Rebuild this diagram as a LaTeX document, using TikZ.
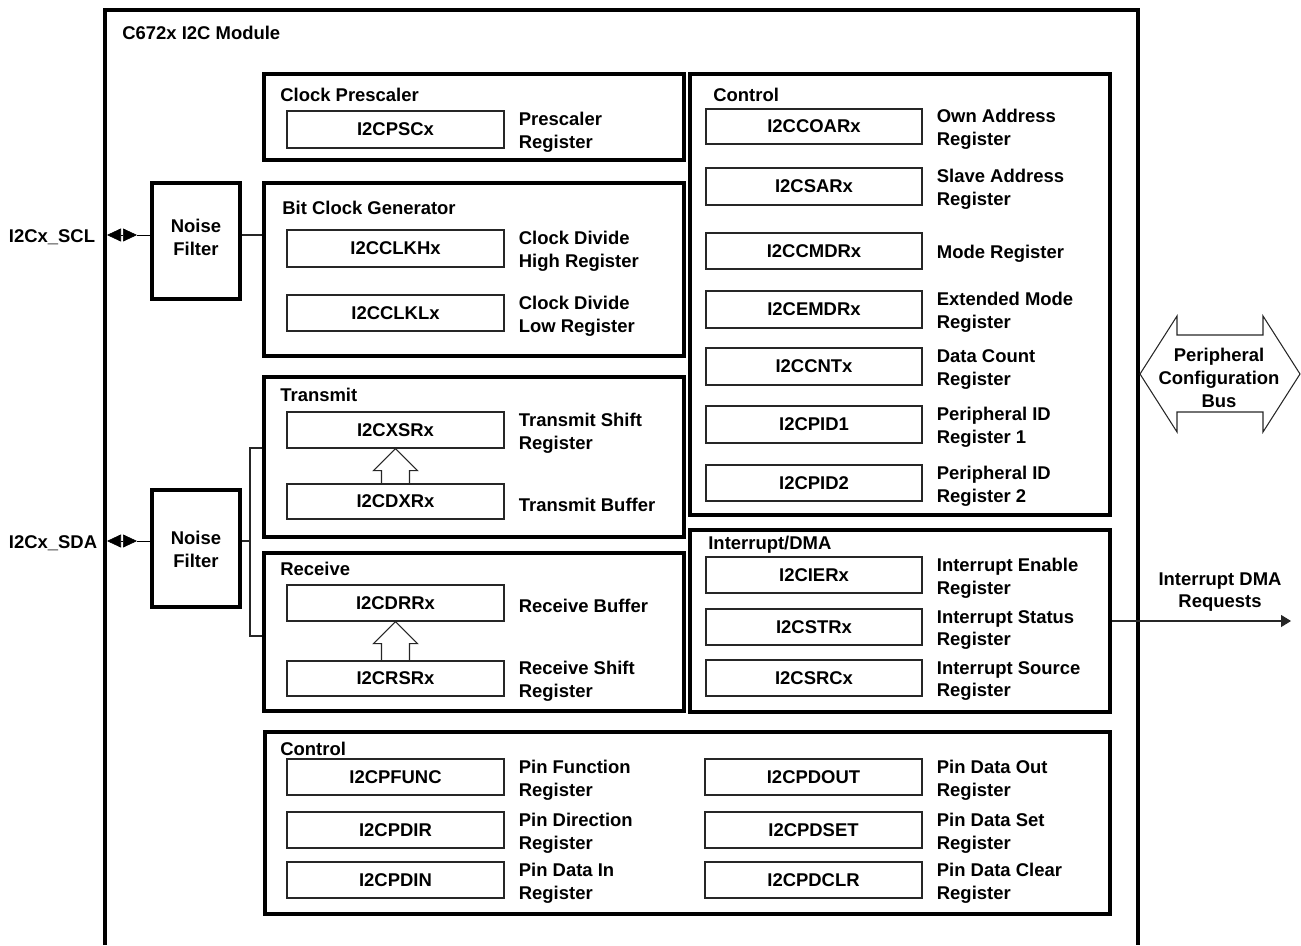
\documentclass[tikz,border=0pt]{standalone}
\usepackage{fontspec}
\setmainfont{Liberation Sans}
\usetikzlibrary{arrows.meta,positioning,fit,calc}

\tikzset{
  grpbox/.style={draw, line width=1.9pt, inner sep=0pt},
  regbox/.style={draw=black!85, line width=0.6pt, inner sep=0pt, label={center:#1}},
  grptitle/.style={anchor=west, inner sep=0pt},
  regdesc/.style={align=left, inner sep=0pt, yshift=-0.6mm},
  wire/.style={line width=0.6pt, black!85},
  pintip/.style={{Triangle[length=2.8mm,width=2.6mm]}-{Triangle[length=2.8mm,width=2.6mm]}},
}

\begin{document}
\begin{tikzpicture}[x=0.2mm, y=-0.2mm, every node/.style={font=\bfseries\fontsize{10.5}{13}\selectfont}]
            \useasboundingbox (0,0) rectangle (1301,945);

            % module frame
            \draw[line width=1.9pt] (105,945) -- (105,10) -- (1138,10) -- (1138,945);
            \node[grptitle] (modtitle) at (122,33) {C672x I2C Module};

            % noise filters and pins
            \node[grpbox, fit={(152,183) (240,299)}] (sclf) {};
            \node[grpbox, fit={(152,490) (240,607)}] (sdaf) {};
            \node[align=center] (sclft) at (196,237) {Noise\\Filter};
            \node[align=center] (sdaft) at (196,549) {Noise\\Filter};
            \node (scl) at (52,237) {I2Cx\_SCL};
            \node (sda) at (53,543) {I2Cx\_SDA};
            \coordinate (sclpin) at (107,235);
            \coordinate (scltip) at (137,235);
            \coordinate (sdapin) at (107,541);
            \coordinate (sdatip) at (137,541);
            \coordinate (sdabus) at (250,541);

            % clock prescaler
            \node[grpbox, fit={(264,74) (684,160)}] (presc) {};
            \node[grptitle] (presct) at (280,95) {Clock Prescaler};
            \node[regbox=I2CPSCx, fit={(287,111) (504,148)}] (pscx) {};
            \node[regdesc, right=2.8mm of pscx] (pscxd) {Prescaler\\Register};

            % bit clock generator
            \node[grpbox, fit={(264,183) (684,356)}] (bitclk) {};
            \node[grptitle] (bitclkt) at (282,208) {Bit Clock Generator};
            \node[regbox=I2CCLKHx, fit={(287,230) (504,267)}] (clkh) {};
            \node[regdesc, right=2.8mm of clkh] (clkhd) {Clock Divide\\High Register};
            \node[regbox=I2CCLKLx, fit={(287,295) (504,331)}] (clkl) {};
            \node[regdesc, right=2.8mm of clkl] (clkld) {Clock Divide\\Low Register};

            % transmit
            \node[grpbox, fit={(264,377) (684,537)}] (tx) {};
            \node[grptitle] (txt) at (280,395) {Transmit};
            \node[regbox=I2CXSRx, fit={(287,412) (504,448)}] (xsr) {};
            \node[regdesc, right=2.8mm of xsr] (xsrd) {Transmit Shift\\Register};
            \node[regbox=I2CDXRx, fit={(287,484) (504,519)}] (dxr) {};
            \node[regdesc, right=2.8mm of dxr] (dxrd) {Transmit Buffer};

            % receive
            \node[grpbox, fit={(264,553) (684,711)}] (rx) {};
            \node[grptitle] (rxt) at (280,569) {Receive};
            \node[regbox=I2CDRRx, fit={(287,585) (504,621)}] (drr) {};
            \node[regdesc, right=2.8mm of drr] (drrd) {Receive Buffer};
            \node[regbox=I2CRSRx, fit={(287,661) (504,696)}] (rsr) {};
            \node[regdesc, right=2.8mm of rsr] (rsrd) {Receive Shift\\Register};

            % control
            \node[grpbox, fit={(690,74) (1110,515)}] (ctrl) {};
            \node[grptitle] (ctrlt) at (713,95) {Control};
            \node[regbox=I2CCOARx, fit={(706,109) (922,144)}] (coar) {};
            \node[regdesc, right=2.8mm of coar] (coard) {Own Address\\Register};
            \node[regbox=I2CSARx, fit={(706,168) (922,205)}] (sar) {};
            \node[regdesc, right=2.8mm of sar] (sard) {Slave Address\\Register};
            \node[regbox=I2CCMDRx, fit={(706,233) (922,269)}] (cmdr) {};
            \node[regdesc, right=2.8mm of cmdr] (cmdrd) {Mode Register};
            \node[regbox=I2CEMDRx, fit={(706,291) (922,328)}] (emdr) {};
            \node[regdesc, right=2.8mm of emdr] (emdrd) {Extended Mode\\Register};
            \node[regbox=I2CCNTx, fit={(706,348) (922,385)}] (cnt) {};
            \node[regdesc, right=2.8mm of cnt] (cntd) {Data Count\\Register};
            \node[regbox=I2CPID1, fit={(706,406) (922,443)}] (pid1) {};
            \node[regdesc, right=2.8mm of pid1] (pid1d) {Peripheral ID\\Register 1};
            \node[regbox=I2CPID2, fit={(706,465) (922,501)}] (pid2) {};
            \node[regdesc, right=2.8mm of pid2] (pid2d) {Peripheral ID\\Register 2};

            % interrupt / dma
            \node[grpbox, fit={(690,530) (1110,712)}] (intr) {};
            \node[grptitle] (intrt) at (708,545) {Interrupt/DMA};
            \node[regbox=I2CIERx, fit={(706,557) (922,593)}] (ier) {};
            \node[regdesc, right=2.8mm of ier] (ierd) {Interrupt Enable\\Register};
            \node[regbox=I2CSTRx, fit={(706,609) (922,645)}] (str) {};
            \node[regdesc, right=2.8mm of str] (strd) {Interrupt Status\\Register};
            \node[regbox=I2CSRCx, fit={(706,660) (922,696)}] (src) {};
            \node[regdesc, right=2.8mm of src] (srcd) {Interrupt Source\\Register};

            % pin control
            \node[grpbox, fit={(265,732) (1110,914)}] (pins) {};
            \node[grptitle] (pinst) at (280,749) {Control};
            \node[regbox=I2CPFUNC, fit={(287,759) (504,795)}] (pfunc) {};
            \node[regdesc, right=2.8mm of pfunc] (pfuncd) {Pin Function\\Register};
            \node[regbox=I2CPDIR, fit={(287,812) (504,848)}] (pdir) {};
            \node[regdesc, right=2.8mm of pdir] (pdird) {Pin Direction\\Register};
            \node[regbox=I2CPDIN, fit={(287,862) (504,898)}] (pdin) {};
            \node[regdesc, right=2.8mm of pdin] (pdind) {Pin Data In\\Register};
            \node[regbox=I2CPDOUT, fit={(705,759) (922,795)}] (pdout) {};
            \node[regdesc, right=2.8mm of pdout] (pdoutd) {Pin Data Out\\Register};
            \node[regbox=I2CPDSET, fit={(705,812) (922,848)}] (pdset) {};
            \node[regdesc, right=2.8mm of pdset] (pdsetd) {Pin Data Set\\Register};
            \node[regbox=I2CPDCLR, fit={(705,862) (922,898)}] (pdclr) {};
            \node[regdesc, right=2.8mm of pdclr] (pdclrd) {Pin Data Clear\\Register};

            % pins to filters to blocks
            \draw[pintip] (sclpin) -- (scltip);
            \draw (scltip) -- (sclf.west |- scltip);
            \draw[wire] (sclf.east |- scltip) -- (bitclk.west |- scltip);
            \draw[pintip] (sdapin) -- (sdatip);
            \draw (sdatip) -- (sdaf.west |- sdatip);
            \draw[wire] (sdaf.east |- sdatip) -- (sdabus);
            \draw[wire] (tx.west |- 0,448) -| (sdabus) |- (rx.west |- 0,636);

            % hollow transfer arrows
            \draw[wire] ($(dxr.north)+(-14,0)$) -- ($(xsr.south)+(-14,22)$) -- ($(xsr.south)+(-22,22)$) -- (xsr.south)
                -- ($(xsr.south)+(22,22)$) -- ($(xsr.south)+(14,22)$) -- ($(dxr.north)+(14,0)$);
            \draw[wire] ($(rsr.north)+(-14,0)$) -- ($(drr.south)+(-14,22)$) -- ($(drr.south)+(-22,22)$) -- (drr.south)
                -- ($(drr.south)+(22,22)$) -- ($(drr.south)+(14,22)$) -- ($(rsr.north)+(14,0)$);

            % peripheral configuration bus
            \draw[wire] (1140,374) -- (1177,316) -- (1177,335) -- (1263,335) -- (1263,316) -- (1300,374)
                -- (1263,432) -- (1263,412) -- (1177,412) -- (1177,432) -- cycle;
            \node[align=center] (bus) at (1219,378) {Peripheral\\Configuration\\Bus};

            % interrupt requests
            \coordinate (irqend) at (1291,621);
            \draw[wire, -{Triangle[length=2mm,width=2.4mm]}] (intr.east) -- (irqend);
            \node[align=center] (irq) at (1220,592) {Interrupt DMA\\Requests};
\end{tikzpicture}
\end{document}
